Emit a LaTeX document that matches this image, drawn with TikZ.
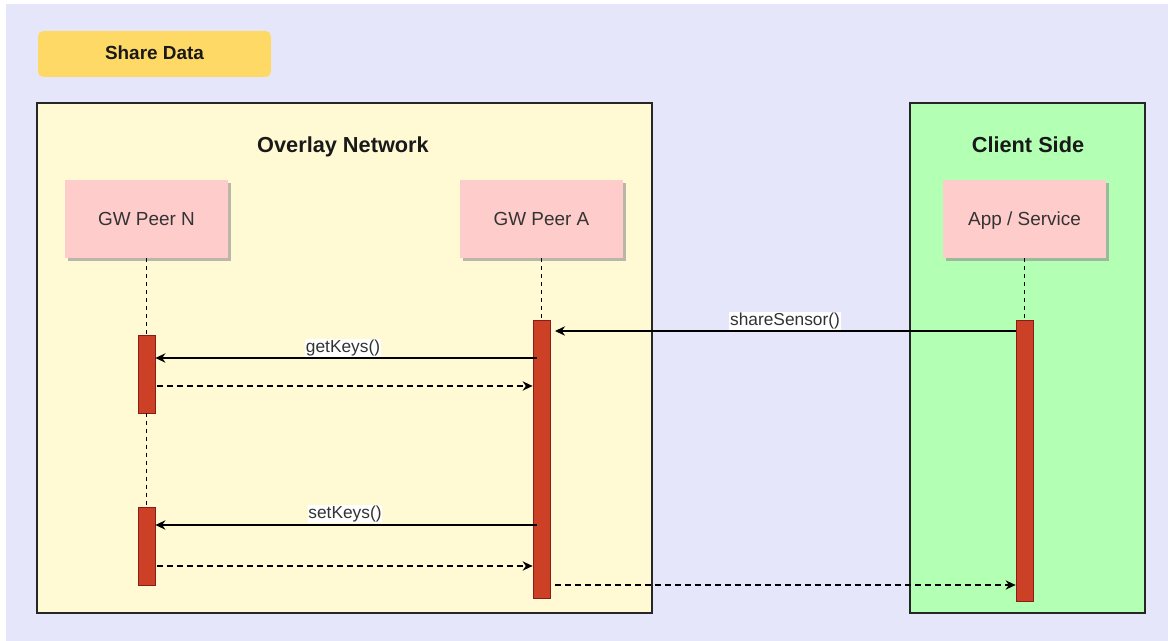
\documentclass[tikz,border=0pt]{standalone}
\usepackage{fontspec}
\setmainfont{Liberation Sans}
\usetikzlibrary{arrows.meta,shadows}
\definecolor{bgc}{HTML}{E6E6FA}
\definecolor{sharec}{HTML}{FFD966}
\definecolor{overc}{HTML}{FFF9D4}
\definecolor{clientc}{HTML}{B3FFB3}
\definecolor{actorc}{HTML}{FFCCCC}
\definecolor{actc}{HTML}{CC4125}
\definecolor{actb}{HTML}{8B1A1A}
\definecolor{txtc}{HTML}{333333}
\tikzset{
  container/.style={draw=black!85, line width=1.6pt, drop shadow={shadow xshift=0.6pt, shadow yshift=-0.6pt, opacity=0.4}},
  actor/.style={fill=actorc, draw=none, minimum width=122.25pt, minimum height=58.5pt, inner sep=0pt, text height=11.7pt, text depth=1.5pt, font=\fontsize{14.2}{16}\selectfont, text=txtc, drop shadow={shadow xshift=2.2pt, shadow yshift=-2.2pt, fill=black!45, opacity=0.6}},
  act/.style={fill=actc, draw=actb, line width=0.6pt, minimum width=12.75pt, inner sep=0pt},
  life/.style={line width=0.7pt, dash pattern=on 3pt off 3pt},
  msg/.style={line width=1pt, -{Stealth[length=7.5pt,width=7pt]}},
  ret/.style={line width=1pt, dash pattern=on 4.5pt off 3pt, -{Stealth[length=7.5pt,width=7pt]}},
  lbl/.style={fill=white, inner sep=0.5pt, text height=9.5pt, text depth=2.8pt, font=\fontsize{13}{14}\selectfont, text=txtc},
  ttl/.style={text height=11.7pt, text depth=3.4pt, font=\bfseries\fontsize{16.3}{18}\selectfont, text=black!90},
}
\begin{document}
\begin{tikzpicture}[x=0.75pt, y=-0.75pt]
\useasboundingbox (0,0) rectangle (1168,641);
\fill[bgc] (6,4) rectangle (1168,641);
% share data
\node[fill=sharec, rounded corners=4pt, minimum width=174.75pt, minimum height=34.5pt, inner sep=0pt, text height=11pt, text depth=2.2pt, font=\bfseries\fontsize{14.2}{16}\selectfont, text=black!90] (share) at (154.5,54) {Share Data};
% containers
\path[container, fill=overc] (37,103) rectangle (652,613);
\path[container, fill=clientc] (910,103) rectangle (1145,613);
\node[ttl] (overlay) at (343,147) {Overlay Network};
\node[ttl] (client) at (1028,147) {Client Side};
% actors
\node[actor] (peerN) at (146.5,219) {GW Peer N};
\node[actor] (peerA) at (541.5,219) {GW Peer A};
\node[actor] (app) at (1024.5,219) {App / Service};
% activations
\node[act, minimum height=58.5pt] (n1) at (146.5,374) {};
\node[act, minimum height=58.5pt] (n2) at (146.5,546) {};
\node[act, minimum height=208.5pt] (a1) at (541.5,459) {};
\node[act, minimum height=210.75pt] (s1) at (1024.5,460.5) {};
% lifelines
\draw[life] (peerN.south) -- (n1.north);
\draw[life] (n1.south) -- (n2.north);
\draw[life] (peerA.south) -- (a1.north);
\draw[life] (app.south) -- (s1.north);
% messages
\coordinate (ssEnd) at (555,331);
\draw[msg] (s1.west |- ssEnd) -- (ssEnd);
\node[lbl] (ssl) at (785,321) {shareSensor()};
\coordinate (gkS) at (537,358);
\draw[msg] (gkS) -- (n1.east |- gkS);
\node[lbl] (gkl) at (343,348) {getKeys()};
\coordinate (r1S) at (157,386);
\draw[ret] (r1S) -- (a1.west |- r1S);
\coordinate (skS) at (537,525);
\draw[msg] (skS) -- (n2.east |- skS);
\node[lbl] (skl) at (345,514) {setKeys()};
\coordinate (r2S) at (157,566);
\draw[ret] (r2S) -- (a1.west |- r2S);
\coordinate (r3S) at (555,585);
\draw[ret] (r3S) -- (s1.west |- r3S);
\end{tikzpicture}
\end{document}
